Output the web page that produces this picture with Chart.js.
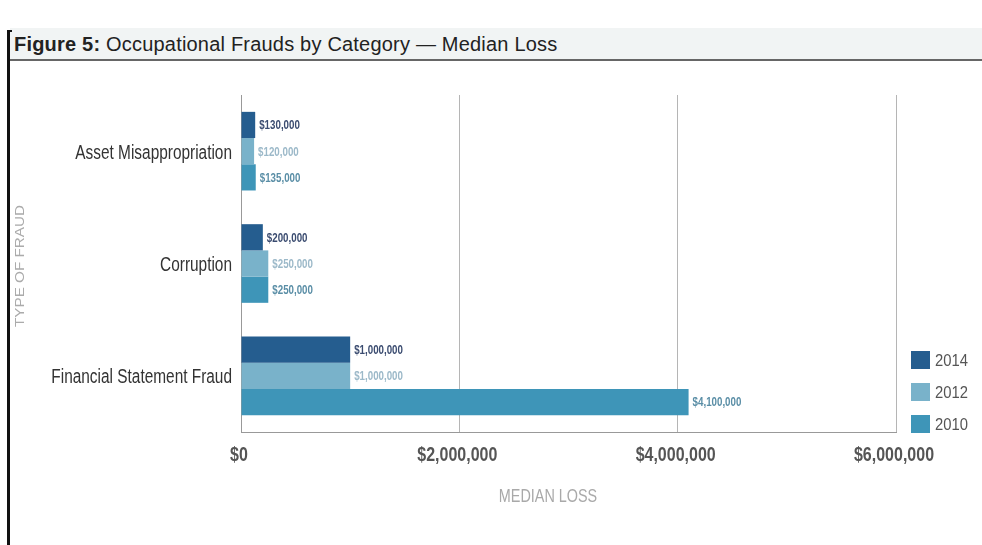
<!DOCTYPE html>
<html lang="en">
<head>
  <meta charset="UTF-8">
  <title>Occupational Frauds by Category — Median Loss</title>
  <style>
    body {
      margin: 0;
      width: 982px;
      height: 545px;
      background: #fff;
      font-family: "Liberation Sans", Arial, sans-serif;
      position: relative;
      overflow: hidden;
    }
    .frame {
      position: absolute;
      left: 7px;
      top: 30px;
      width: 3px;
      height: 515px;
      background: #111;
    }
    .frame-top {
      position: absolute;
      left: 7px;
      top: 30px;
      width: 5px;
      height: 2px;
      background: #111;
    }
    .title-bar {
      position: absolute;
      left: 10px;
      top: 28px;
      right: 0;
      height: 31px;
      background: #f1f4f4;
      border-bottom: 2px solid #666;
    }
    .title-bar h1 {
      margin: 0;
      padding: 5px 0 0 4px;
      font-size: 20px;
      letter-spacing: 0.2px;
      font-weight: normal;
      color: #222;
      white-space: nowrap;
    }
    .title-bar b { font-weight: bold; }
    .chart-box {
      position: absolute;
      left: 0;
      top: 0;
      width: 982px;
      height: 545px;
    }
  </style>
  <script src="https://cdn.jsdelivr.net/npm/chart.js"></script>
</head>
<body>
<div class="title-bar"><h1><b>Figure 5:</b> Occupational Frauds by Category — Median Loss</h1></div>
<div class="frame"></div>
<div class="frame-top"></div>
<div class="chart-box"><canvas id="fraudChart" width="982" height="545"></canvas></div>

<script>
  // datos
  const categorias = ['Asset Misappropriation', 'Corruption', 'Financial Statement Fraud'];
  const anios = ['2014', '2012', '2010'];
  const perdida2014 = [130000, 200000, 1000000];
  const perdida2012 = [120000, 250000, 1000000];
  const perdida2010 = [135000, 250000, 4100000];
  const ticksX = [0, 2000000, 4000000, 6000000];

  const coloresBarra = ['#255d8f', '#79b2ca', '#3e95b8'];
  const coloresTexto = ['#3b4c70', '#9cb9c9', '#5a8ea6'];
  const fuente = '"Liberation Sans", Arial, sans-serif';

  function dinero(v) {
    return '$' + v.toLocaleString('en-US');
  }

  // texto estrecho: la fuente original es condensada
  function texto(ctx, str, x, y, font, sx, align, color) {
    ctx.save();
    ctx.font = font + ' ' + fuente;
    ctx.fillStyle = color;
    ctx.textAlign = align;
    ctx.textBaseline = 'middle';
    ctx.translate(x, y);
    ctx.scale(sx, 1);
    ctx.fillText(str, 0, 0);
    ctx.restore();
  }

  // etiquetas de valor al final de cada barra
  const etiquetasValor = {
    id: 'etiquetasValor',
    afterDatasetsDraw(chart) {
      const ctx = chart.ctx;
      chart.data.datasets.forEach((ds, i) => {
        chart.getDatasetMeta(i).data.forEach((bar, j) => {
          texto(ctx, dinero(ds.data[j]), bar.x + 4, bar.y + 1, 'bold 12.5px', 0.78, 'left', coloresTexto[i]);
        });
      });
    }
  };

  // ticks, titulos de ejes y leyenda
  const extras = {
    id: 'extras',
    afterDraw(chart) {
      const ctx = chart.ctx;
      const xs = chart.scales.x;
      const ys = chart.scales.y;

      ticksX.forEach(v => {
        texto(ctx, dinero(v), xs.getPixelForValue(v) - 2, 455, 'bold 20px', 0.8, 'center', '#555');
      });
      categorias.forEach((c, i) => {
        texto(ctx, c, 232, ys.getPixelForValue(i) + 2, '19.5px', 0.79, 'right', '#333');
      });

      texto(ctx, 'MEDIAN LOSS', 548, 497, '18px', 0.8, 'center', '#a9a9a9');

      ctx.save();
      ctx.translate(21, 266);
      ctx.rotate(-Math.PI / 2);
      texto(ctx, 'TYPE OF FRAUD', 0, 0, '12px', 1.27, 'center', '#ababab');
      ctx.restore();

      anios.forEach((a, i) => {
        const y = 360 + i * 32;
        ctx.fillStyle = coloresBarra[i];
        ctx.fillRect(911, y - 9, 19, 18);
        texto(ctx, a, 935, y + 1, '17px', 0.87, 'left', '#555');
      });
    }
  };

  const datos = {
    labels: categorias,
    datasets: [
      { label: anios[0], data: perdida2014, backgroundColor: coloresBarra[0] },
      { label: anios[1], data: perdida2012, backgroundColor: coloresBarra[1] },
      { label: anios[2], data: perdida2010, backgroundColor: coloresBarra[2] }
    ]
  };

  const config = {
    type: 'bar',
    data: datos,
    options: {
      indexAxis: 'y',
      responsive: false,
      animation: false,
      categoryPercentage: 0.7,
      barPercentage: 1.0,
      layout: { padding: { top: 95, right: 86, left: 0, bottom: 0 } },
      plugins: {
        legend: { display: false },
        tooltip: { enabled: false }
      },
      scales: {
        x: {
          min: 0,
          max: 6000000,
          afterBuildTicks(scale) {
            scale.ticks = ticksX.map(v => ({ value: v }));
          },
          afterFit(scale) { scale.height = 113; },
          grid: { color: '#b5b5b5', drawTicks: false },
          border: { color: '#999', display: true },
          ticks: { display: false }
        },
        y: {
          afterFit(scale) { scale.width = 241; },
          grid: { display: false, drawTicks: false },
          border: { color: '#999', display: true },
          ticks: { display: false }
        }
      }
    },
    plugins: [etiquetasValor, extras]
  };

  new Chart(document.getElementById('fraudChart').getContext('2d'), config);
</script>
</body>
</html>
